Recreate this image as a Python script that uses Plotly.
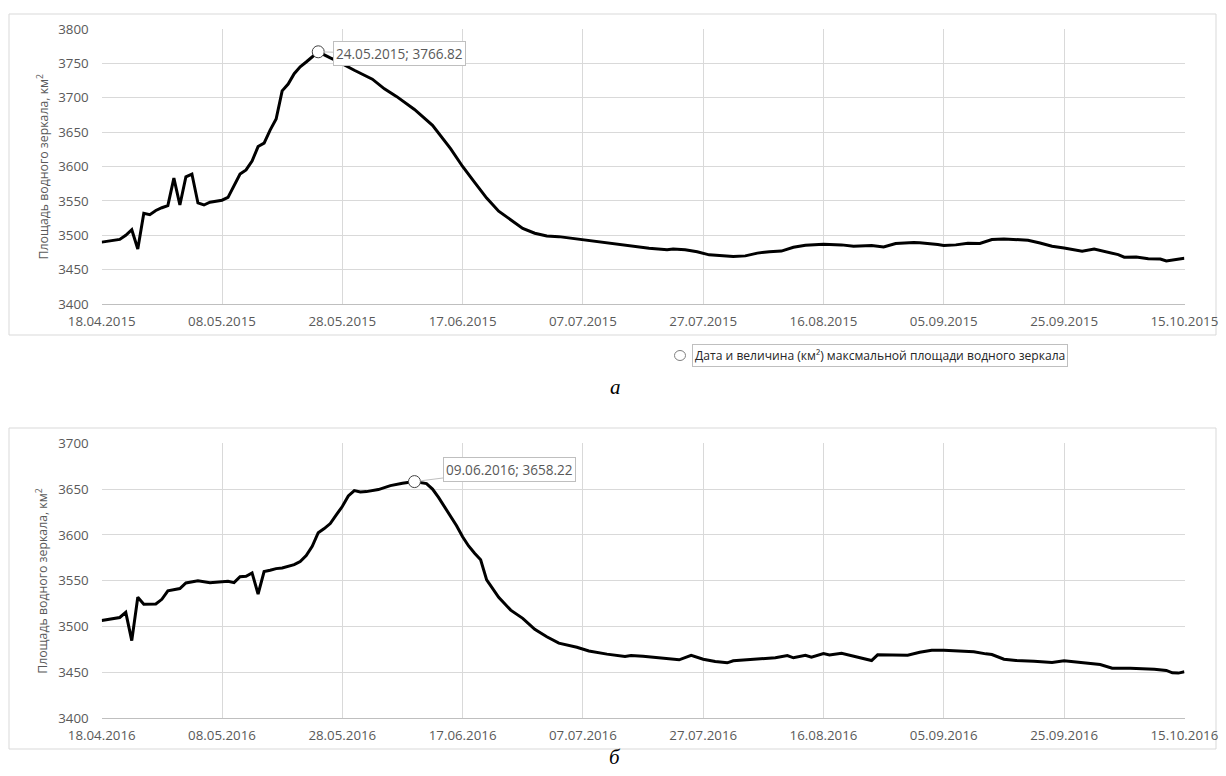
import pandas as pd
import plotly.graph_objects as go

# ---- data: water-surface area of the reservoir, km² (day offset from 18 April) ----
start_2015 = "2015-04-18"
days_2015 = [0, 1, 3, 4, 5, 6, 7, 8, 9, 10, 11, 12, 13, 14, 15, 16, 17, 18, 19, 20,
             21, 22, 23, 24, 25, 26, 27, 28, 29, 30, 31, 32, 33, 34, 35, 36, 38, 39, 42, 45,
             47, 49, 52, 55, 58, 60, 62, 64, 66, 68, 70, 72, 74, 76, 79, 81, 83, 86, 88, 89,
             91, 94, 95, 97, 99, 101, 103, 105, 107, 109, 111, 113, 115, 117, 120, 123, 125, 128, 130, 132,
             135, 136, 139, 140, 142, 144, 146, 148, 150, 152, 154, 156, 158, 160, 161, 163, 165, 166, 169, 170,
             172, 174, 176, 177, 179, 180]
area_2015 = [3490, 3491, 3494, 3500, 3508, 3480, 3532, 3530, 3536, 3540, 3543, 3583, 3544, 3585, 3589, 3547, 3544, 3548, 3549, 3551,
             3555, 3571, 3589, 3595, 3608, 3629, 3634, 3653, 3669, 3710, 3720, 3735, 3745, 3752, 3760, 3766.82, 3758, 3754, 3740, 3727,
             3713, 3702, 3683, 3660, 3626, 3600, 3577, 3554, 3535, 3522, 3510, 3503, 3499, 3498, 3494.5, 3492, 3489.5, 3486.5, 3484, 3483.5,
             3481, 3479, 3480, 3479, 3476, 3471.5, 3470, 3469, 3470, 3474, 3476, 3477, 3482.5, 3485.5, 3487, 3486, 3484, 3485, 3483, 3488,
             3489.3, 3489, 3486.4, 3485, 3486, 3488.3, 3488, 3493.7, 3494.7, 3493.7, 3492.7, 3488.8, 3484, 3481.5, 3480, 3476.7, 3480, 3478, 3471.8, 3468,
             3468.4, 3466, 3465.5, 3462.6, 3464.6, 3466.5]

start_2016 = "2016-04-18"
days_2016 = [0, 2, 3, 4, 5, 6, 7, 9, 10, 11, 12, 13, 14, 15, 16, 18, 20, 21, 22, 23,
             24, 25, 26, 27, 28, 29, 30, 31, 32, 33, 34, 35, 36, 37, 38, 39, 40, 41, 42, 43,
             44, 46, 47, 48, 50, 51, 52, 54, 55, 56, 57, 58, 59, 60, 61, 62, 63, 64, 66, 68,
             70, 72, 74, 76, 79, 81, 84, 87, 88, 90, 92, 94, 96, 98, 100, 102, 104, 105, 108, 110,
             112, 114, 115, 117, 118, 120, 121, 123, 125, 127, 128, 129, 132, 134, 136, 138, 140, 143, 145, 147,
             148, 150, 152, 155, 158, 160, 163, 166, 168, 171, 175, 177, 178, 179, 180]
area_2016 = [3506.6, 3508.7, 3510, 3515.6, 3484.7, 3532, 3524.4, 3524.7, 3529.8, 3539, 3540, 3541.5, 3547.6, 3548.4, 3550, 3548, 3549.5, 3549.5, 3548, 3554.5,
             3555, 3558.6, 3535.6, 3560, 3561.5, 3563.3, 3564, 3565.5, 3567.6, 3571, 3577.5, 3587.6, 3602.5, 3607, 3612.4, 3622, 3631, 3642.5, 3648.4, 3647,
             3647.3, 3649.5, 3651.6, 3653.8, 3656.5, 3657.5, 3658.22, 3656, 3650, 3641, 3631, 3620, 3610, 3598, 3588, 3580, 3573, 3551, 3532, 3518,
             3509, 3497, 3489, 3482, 3477.5, 3473.5, 3470, 3467.5, 3468.5, 3467.7, 3466.3, 3465.2, 3463.8, 3468.8, 3464.5, 3462, 3460.5, 3462.7, 3463.8, 3464.5,
             3466, 3468.5, 3466, 3468.8, 3466.7, 3470.7, 3469.2, 3471, 3468, 3465.2, 3463, 3469.2, 3468.8, 3468.8, 3472, 3474.3, 3474.3, 3472.8, 3472.5, 3470.3,
             3469.6, 3464.5, 3463, 3462.3, 3461, 3462.7, 3461, 3458.7, 3454.7, 3454.7, 3453.6, 3452.2, 3449.6, 3449.3, 3450.7]

peak_dates = ["2015-05-24", "2016-06-09"]
peak_values = [3766.82, 3658.22]

x_ends = ["2015-10-15", "2016-10-15"]
y_ranges = [[3400, 3800], [3400, 3700]]

legend_text = "Дата и величина (км²) максмальной площади водного зеркала"
y_title = "Площадь водного зеркала, км<sup>2</sup>"
panel_letters = ["<i>а</i>", "<i>б</i>"]

# ---- canvas geometry (pixels) ----
W, H = 1226, 776
PLOT_X0, PLOT_X1 = 101.7, 1184.5
PLOT_Y = [(29, 304), (443.3, 718.3)]      # (top, bottom) of each plot area
FRAME_Y = [(14, 335), (428, 749)]         # outer chart frames

def px(x):
    return x / W

def py(y):
    return 1 - y / H

GRID = "#d9d9d9"
TXT = "#595959"
FONT = "Open Sans"

fig = go.Figure()

series = [(start_2015, days_2015, area_2015), (start_2016, days_2016, area_2016)]
for i, (start, days, area) in enumerate(series):
    dates = pd.Timestamp(start) + pd.to_timedelta(days, unit="D")
    xa = "x" if i == 0 else "x2"
    ya = "y" if i == 0 else "y2"
    fig.add_trace(go.Scatter(x=dates, y=area, mode="lines",
                             line=dict(color="black", width=3),
                             xaxis=xa, yaxis=ya, showlegend=False, hoverinfo="skip"))
    fig.add_trace(go.Scatter(x=[peak_dates[i]], y=[peak_values[i]], mode="markers",
                             marker=dict(symbol="circle", size=12, color="white",
                                         line=dict(color="#404040", width=1)),
                             xaxis=xa, yaxis=ya, showlegend=False, hoverinfo="skip"))

axis_common = dict(showgrid=True, gridcolor=GRID, gridwidth=1, zeroline=False,
                   automargin=False,
                   tickfont=dict(family=FONT, size=13.3, color=TXT), ticks="")
for i in range(2):
    sfx = "" if i == 0 else "2"
    start = series[i][0]
    top, bot = PLOT_Y[i]
    fig.update_layout(**{
        f"xaxis{sfx}": dict(axis_common, type="date",
                            domain=[px(PLOT_X0), px(PLOT_X1)],
                            range=[start, x_ends[i] + " 00:30"],
                            tick0=start, dtick=20 * 86400000, tickformat="%d.%m.%Y",
                            showline=True, linecolor="#bfbfbf", linewidth=1,
                            anchor=f"y{sfx}", ticklabelstandoff=5),
        f"yaxis{sfx}": dict(axis_common, domain=[py(bot), py(top)],
                            range=y_ranges[i], dtick=50,
                            showline=False, anchor=f"x{sfx}", ticklabelstandoff=12),
    })

shapes = []
annotations = []
for i in range(2):
    fy0, fy1 = FRAME_Y[i]
    shapes.append(dict(type="rect", xref="paper", yref="paper",
                       x0=px(9), x1=px(1216), y0=py(fy1), y1=py(fy0),
                       line=dict(color=GRID, width=1), layer="below"))
    top, bot = PLOT_Y[i]
    annotations.append(dict(text=y_title, xref="paper", yref="paper",
                            x=px(42), y=py((top + bot) / 2), textangle=-90,
                            showarrow=False, xanchor="center", yanchor="middle",
                            font=dict(family=FONT, size=12.3, color=TXT)))

# peak callouts
sfx_list = ["", "2"]
offsets = [(81, 2), (95, -12)]
for i in range(2):
    d = pd.Timestamp(peak_dates[i]).strftime("%d.%m.%Y")
    annotations.append(dict(text=f"{d}; {peak_values[i]:.2f}",
                            x=peak_dates[i], y=peak_values[i],
                            xref=f"x{sfx_list[i]}", yref=f"y{sfx_list[i]}",
                            showarrow=True, arrowhead=0, arrowwidth=1, arrowcolor="#bfbfbf",
                            ax=offsets[i][0], ay=offsets[i][1], standoff=6,
                            bgcolor="white", bordercolor="#bfbfbf", borderwidth=1, borderpad=2,
                            font=dict(family=FONT, size=13.6, color=TXT)))

# legend for the peak marker
shapes.append(dict(type="circle", xref="paper", yref="paper",
                   x0=px(674.5), x1=px(685.5), y0=py(360.5), y1=py(350.5),
                   line=dict(color="#7f7f7f", width=1), fillcolor="white"))
annotations.append(dict(text=legend_text, xref="paper", yref="paper",
                        x=px(692), y=py(355.5), xanchor="left", yanchor="middle",
                        showarrow=False, bgcolor="white", bordercolor="#bfbfbf",
                        borderwidth=1, borderpad=2,
                        font=dict(family=FONT, size=12.1, color="#262626")))

# panel letters
for letter, yy in zip(panel_letters, [387, 757]):
    annotations.append(dict(text=letter, xref="paper", yref="paper",
                            x=px(615), y=py(yy), showarrow=False,
                            xanchor="center", yanchor="middle",
                            font=dict(family="Liberation Serif", size=21, color="black")))

fig.update_layout(width=W, height=H, margin=dict(l=0, r=0, t=0, b=0),
                  paper_bgcolor="white", plot_bgcolor="white",
                  shapes=shapes, annotations=annotations, showlegend=False)

fig.write_html("out.html")
